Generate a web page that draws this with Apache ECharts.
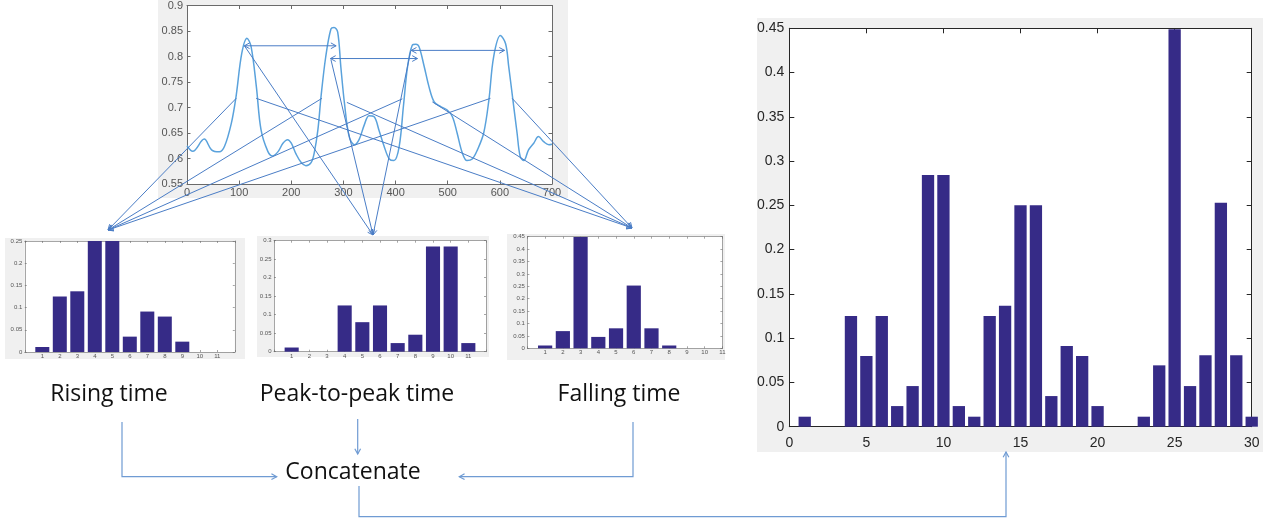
<!DOCTYPE html>
<html><head><meta charset="utf-8">
<script src="https://cdn.jsdelivr.net/npm/echarts@6/dist/echarts.min.js"></script>
<style>html,body{margin:0;padding:0;background:#fff}#c{width:1271px;height:521px}</style>
</head><body><div id="c"></div>
<script>
// ---------------- data ----------------
const signalX = [0, 11, 33, 47, 62, 72, 85, 94, 105, 115, 123, 133, 142, 155, 164, 175, 184, 193, 200, 209, 219, 228, 238, 244, 251, 257, 266, 276, 282, 289, 295, 302, 311, 321, 330, 340, 349, 359, 368, 378, 388, 397, 407, 415, 423, 432, 439, 445, 455, 464, 474, 486, 499, 509, 518, 528, 537, 547, 557, 569, 579, 588, 601, 611, 617, 625, 633, 639, 646, 655, 665, 674, 684, 694, 700];
const signalY = [0.625, 0.614, 0.638, 0.617, 0.613, 0.624, 0.669, 0.721, 0.806, 0.836, 0.819, 0.741, 0.656, 0.614, 0.605, 0.614, 0.630, 0.637, 0.630, 0.609, 0.592, 0.586, 0.592, 0.611, 0.656, 0.721, 0.799, 0.854, 0.857, 0.848, 0.780, 0.708, 0.643, 0.627, 0.637, 0.666, 0.684, 0.682, 0.656, 0.624, 0.599, 0.596, 0.624, 0.702, 0.780, 0.822, 0.824, 0.819, 0.780, 0.741, 0.711, 0.702, 0.695, 0.682, 0.650, 0.611, 0.596, 0.599, 0.617, 0.650, 0.715, 0.799, 0.841, 0.825, 0.780, 0.715, 0.650, 0.604, 0.596, 0.617, 0.630, 0.643, 0.633, 0.627, 0.628];

const histBins = [1, 2, 3, 4, 5, 6, 7, 8, 9, 10, 11];
const risingTime     = [0.0113, 0.125, 0.1367, 0.25, 0.25, 0.0346, 0.0911, 0.0798, 0.0233, 0, 0];
const peakToPeakTime = [0.0113, 0, 0, 0.125, 0.0798, 0.125, 0.0233, 0.0459, 0.2843, 0.2843, 0.0233];
const fallingTime    = [0.0113, 0.0693, 0.4488, 0.0459, 0.0806, 0.253, 0.0806, 0.0113, 0, 0, 0];
const concatBins = [1, 2, 3, 4, 5, 6, 7, 8, 9, 10, 11, 12, 13, 14, 15, 16, 17, 18, 19, 20, 21, 22, 23, 24, 25, 26, 27, 28, 29, 30, 31, 32, 33];
const concatenated = peakToPeakTime.concat(risingTime, fallingTime);

// annotation anchors on the signal (data coords)
const peakArrows = [[[110, 0.821], [286, 0.821]], [[275, 0.796], [442, 0.796]], [[430, 0.812], [609, 0.812]]];
const risingStarts = [[94.4, 0.718], [258.8, 0.718], [413, 0.717], [582, 0.718]];
const fallingStarts = [[132.6, 0.718], [306.6, 0.710], [470.5, 0.711], [623.5, 0.718]];
const peakStarts = [[110.3, 0.8207], [276, 0.794], [429, 0.811]];

const labels = ['Rising time', 'Peak-to-peak time', 'Falling time', 'Concatenate'];

// ---------------- layout / style ----------------
const barColor = '#362b87';
const arrowColor = '#4a7dc6';
const connColor = '#6f9bd3';
const FONT = 'Liberation Sans';

const grids = [
  {left: 187, top: 5, width: 365, height: 179},
  {left: 24.8, top: 241, width: 210, height: 111},
  {left: 274, top: 240.7, width: 212, height: 111},
  {left: 527.4, top: 236.7, width: 195, height: 111.6},
  {left: 789.3, top: 28.3, width: 462.4, height: 398.4}
].map(g => Object.assign({show: true, backgroundColor: '#fff', borderWidth: 0}, g));

const xAxes = [], yAxes = [];
function mkAxes(gi, xs, ys, st) {
  const base = () => ({
    gridIndex: gi, type: 'value', splitLine: {show: false},
    axisLine: {show: true, onZero: false, lineStyle: {color: st.frame, width: st.lw}},
    axisTick: {show: true, inside: true, length: st.tick, lineStyle: {color: st.frame, width: st.lw}}
  });
  const lab = (m, hide) => ({show: true, fontSize: st.fs, color: st.lc, margin: m, fontFamily: FONT,
    formatter: v => (hide && hide.indexOf(v) >= 0) ? '' : String(+v.toFixed(4))});
  xAxes.push(Object.assign(base(), {position: 'bottom', min: xs[0], max: xs[1], interval: xs[2], axisLabel: lab(st.xm, xs[3])}));
  xAxes.push(Object.assign(base(), {position: 'top', min: xs[0], max: xs[1], interval: xs[2], axisLabel: {show: false}}));
  yAxes.push(Object.assign(base(), {position: 'left', min: ys[0], max: ys[1], interval: ys[2], axisLabel: lab(st.ym)}));
  yAxes.push(Object.assign(base(), {position: 'right', min: ys[0], max: ys[1], interval: ys[2], axisLabel: {show: false}}));
}
const smallSt = {frame: '#6a6a6a', lw: 0.6, tick: 2, fs: 6, lc: '#555', xm: 1.5, ym: 2.5};
mkAxes(0, [0, 700, 100], [0.55, 0.9, 0.05], {frame: '#6a6a6a', lw: 1, tick: 3.5, fs: 11, lc: '#555', xm: 3, ym: 4});
mkAxes(1, [0, 12, 1, [0, 12]], [0, 0.25, 0.05], smallSt);
mkAxes(2, [0, 12, 1, [0, 12]], [0, 0.3, 0.05], smallSt);
mkAxes(3, [0, 11, 1, [0]], [0, 0.45, 0.05], smallSt);
mkAxes(4, [0, 30, 5], [0, 0.45, 0.05], {frame: '#262626', lw: 1, tick: 5, fs: 14, lc: '#262626', xm: 9, ym: 5});

function barSeries(gi, bins, vals, w) {
  return {type: 'bar', xAxisIndex: 2 * gi, yAxisIndex: 2 * gi, barWidth: w, clip: true, silent: true,
    itemStyle: {color: barColor}, data: bins.map((b, i) => [b, vals[i]])};
}

const chart = echarts.init(document.getElementById('c'), null, {renderer: 'canvas'});
chart.setOption({
  animation: false,
  backgroundColor: '#fff',
  grid: grids,
  xAxis: xAxes,
  yAxis: yAxes,
  series: [
    {type: 'line', xAxisIndex: 0, yAxisIndex: 0, smooth: 0.35, showSymbol: false, silent: true,
     lineStyle: {color: '#5aa2dc', width: 1.5}, data: signalX.map((x, i) => [x, signalY[i]])},
    barSeries(1, histBins, risingTime, 14),
    barSeries(2, histBins, peakToPeakTime, 14.1),
    barSeries(3, histBins, fallingTime, 14.2),
    barSeries(4, concatBins, concatenated, 12.3)
  ]
});

// ---------------- annotations ----------------
const px = d => chart.convertToPixel({xAxisIndex: 0, yAxisIndex: 0}, d);
function head(tip, from, len, ang) {
  len = len || 6; ang = ang || 0.5;
  const a = Math.atan2(from[1] - tip[1], from[0] - tip[0]);
  return [[tip[0] + len * Math.cos(a + ang), tip[1] + len * Math.sin(a + ang)], tip,
          [tip[0] + len * Math.cos(a - ang), tip[1] + len * Math.sin(a - ang)]];
}
const G = [];
const line = (pts, color, w) => G.push({type: 'polyline', z: 100, silent: true,
  shape: {points: pts}, style: {stroke: color, lineWidth: w, fill: null}});
function arrow(from, to, color, w) {
  line([from, to], color, w);
  line(head(to, from), color, w);
}
// gray panels
[[158, 0, 410, 198], [5, 238, 240, 121], [257, 236, 232, 121], [507, 234, 218, 126], [757, 18, 506, 434]]
  .forEach(r => G.push({type: 'rect', z: -10, silent: true, shape: {x: r[0], y: r[1], width: r[2], height: r[3]}, style: {fill: '#f0f0f0'}}));

// double-headed peak-to-peak arrows
peakArrows.forEach(p => {
  const a = px(p[0]), b = px(p[1]);
  line([a, b], arrowColor, 1);
  line(head(a, b), arrowColor, 1);
  line(head(b, a), arrowColor, 1);
});
const risingTarget = [108, 230], peakTarget = [373, 235], fallingTarget = [632, 228];
risingStarts.forEach(s => arrow(px(s), risingTarget, arrowColor, 1));
fallingStarts.forEach(s => arrow(px(s), fallingTarget, arrowColor, 1));
peakStarts.forEach(s => arrow(px(s), peakTarget, arrowColor, 1));

// labels
const textPos = [[109, 394], [357, 394], [619, 394], [353, 472]];
labels.forEach((t, i) => G.push({type: 'text', z: 100, silent: true, x: textPos[i][0], y: textPos[i][1],
  style: {text: t, fontSize: 23, fontFamily: 'Open Sans', fill: '#111', align: 'center', verticalAlign: 'middle'}}));

// bottom connectors
function conn(pts) {
  line(pts, connColor, 1.2);
  line(head(pts[pts.length - 1], pts[pts.length - 2]), connColor, 1.2);
}
conn([[122, 422], [122, 476.7], [276.7, 476.7]]);
conn([[357.7, 419], [357.7, 454]]);
conn([[633, 422], [633, 476.7], [459.3, 476.7]]);
conn([[359, 486], [359, 516.7], [1006, 516.7], [1006, 452]]);

chart.setOption({graphic: {elements: G}});
</script>
</body></html>
